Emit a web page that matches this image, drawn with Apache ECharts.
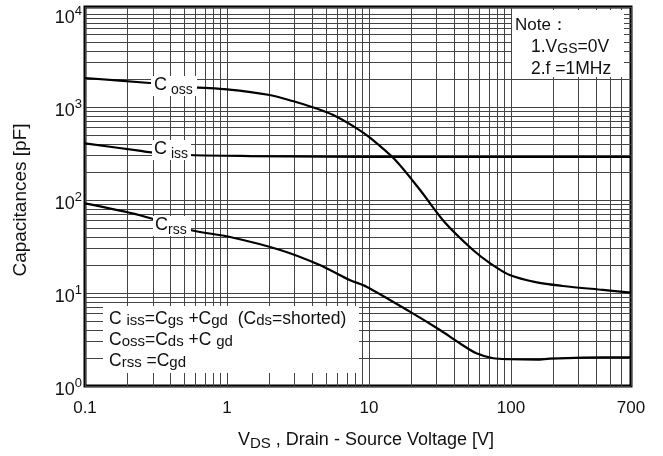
<!DOCTYPE html>
<html>
<head>
<meta charset="utf-8">
<script src="https://cdn.jsdelivr.net/npm/echarts@6/dist/echarts.min.js"></script>
<style>html,body{margin:0;padding:0;background:#fff}#c{width:663px;height:456px}</style>
</head>
<body>
<div id="c"></div>
<script>
// ---- data ----
const cossV = [0.1, 0.27, 0.6, 1.0, 2.0, 2.9, 4.0, 5.6, 8.2, 10.2, 15.2, 22.9, 34, 54, 71, 98, 152, 232, 444, 700];
const cossC = [2050, 1825, 1630, 1550, 1346, 1160, 995, 820, 590, 465, 272, 128, 58, 29, 21, 15.6, 13.0, 11.9, 10.8, 10.1];
const cissV = [0.1, 0.24, 0.3, 0.55, 1.45, 5, 20, 100, 700];
const cissC = [407, 339, 323, 305, 297, 292, 290, 290, 290];
const crssV = [0.1, 0.24, 0.55, 1.05, 2.37, 4.5, 7.3, 9.6, 19.4, 31.6, 43.6, 57, 75, 98, 152, 188, 320, 700];
const crssC = [92, 69, 47.6, 40, 29, 20, 13.8, 11.7, 6.3, 4.0, 2.88, 2.25, 1.99, 1.94, 1.92, 1.97, 2.02, 2.03];

// axis ranges and grid tick values
const xMin = 0.1, xMax = 700;
const yMin = 1, yMax = 11900;
const xMinorGrid = [0.2,0.3,0.4,0.5,0.6,0.7,0.8,0.9, 2,3,4,5,6,7,8,9, 20,30,40,50,60,70,80,90, 200,300,400,500,600];
const yMinorGrid = [2,3,4,5,6,7,8,9, 20,30,40,50,60,70,80,90, 200,300,400,500,600,700,800,900, 2000,3000,4000,5000,6000,7000,8000,9000];

const FONT = 'Liberation Sans, Arial, sans-serif';
const zip = (a, b) => a.map((v, i) => [v, b[i]]);

const chart = echarts.init(document.getElementById('c'), null, {renderer: 'canvas'});
const gridColor = '#444';
const curveStyle = {color: '#000', width: 2.2};

const option = {
  animation: false,
  backgroundColor: '#fff',
  grid: {left: 85, right: 32, top: 7, bottom: 70, show: true, borderColor: '#000', borderWidth: 3, backgroundColor: 'transparent'},
  xAxis: {
    type: 'log', min: xMin, max: xMax, logBase: 10,
    axisLine: {show: false}, axisTick: {show: false},
    splitLine: {show: true, lineStyle: {color: gridColor, width: 1}},
    axisLabel: {
      margin: 14, fontSize: 17, color: '#111', fontFamily: FONT,
      formatter: v => String(+(+v).toPrecision(3))
    }
  },
  yAxis: {
    type: 'log', min: yMin, max: yMax, logBase: 10,
    axisLine: {show: false}, axisTick: {show: false},
    splitLine: {show: true, lineStyle: {color: gridColor, width: 1}},
    axisLabel: {
      margin: 3, color: '#111', fontFamily: FONT,
      formatter: v => {
        const l = Math.log10(v), e = Math.round(l);
        if (Math.abs(l - e) > 1e-6) return '';
        return '{b|10}{p|' + e + '}';
      },
      rich: {
        b: {fontSize: 18, color: '#111', fontFamily: FONT, padding: [8, 0, 0, 0]},
        p: {fontSize: 13, color: '#111', fontFamily: FONT, padding: [0, 0, 6, 0]}
      }
    }
  },
  series: [
    {
      type: 'line', data: [], silent: true, z: 1,
      markLine: {
        silent: true, z: 1, symbol: ['none', 'none'], label: {show: false},
        lineStyle: {color: gridColor, width: 1, type: 'solid'},
        emphasis: {disabled: true},
        data: xMinorGrid.map(v => ({xAxis: v})).concat(yMinorGrid.map(v => ({yAxis: v})))
      }
    },
    {name: 'Coss', type: 'line', data: zip(cossV, cossC), showSymbol: false, smooth: 0.3, lineStyle: curveStyle, z: 5},
    {name: 'Ciss', type: 'line', data: zip(cissV, cissC), showSymbol: false, smooth: 0.3, lineStyle: curveStyle, z: 5},
    {name: 'Crss', type: 'line', data: zip(crssV, crssC), showSymbol: false, smooth: 0.3, lineStyle: curveStyle, z: 5}
  ],
  graphic: [
    // curve labels
    {type: 'rect', z: 100, shape: {x: 151, y: 76, width: 46, height: 20}, style: {fill: '#fff'}},
    {type: 'text', z: 101, x: 154, y: 85, style: {text: '{c|C}{s| oss}', verticalAlign: 'middle', rich: {
      c: {fontSize: 18, fill: '#111', fontFamily: FONT}, s: {fontSize: 14, fill: '#111', fontFamily: FONT, padding: [10, 0, 0, 0]}}}},
    {type: 'rect', z: 100, shape: {x: 152, y: 140, width: 39, height: 20}, style: {fill: '#fff'}},
    {type: 'text', z: 101, x: 154, y: 149, style: {text: '{c|C}{s| iss}', verticalAlign: 'middle', rich: {
      c: {fontSize: 18, fill: '#111', fontFamily: FONT}, s: {fontSize: 14, fill: '#111', fontFamily: FONT, padding: [10, 0, 0, 0]}}}},
    {type: 'rect', z: 100, shape: {x: 153, y: 216, width: 38, height: 20}, style: {fill: '#fff'}},
    {type: 'text', z: 101, x: 155, y: 225, style: {text: '{c|C}{s|rss}', verticalAlign: 'middle', rich: {
      c: {fontSize: 18, fill: '#111', fontFamily: FONT}, s: {fontSize: 14, fill: '#111', fontFamily: FONT, padding: [10, 0, 0, 0]}}}},
    // note box
    {type: 'rect', z: 100, shape: {x: 512, y: 10, width: 112, height: 67}, style: {fill: '#fff'}},
    {type: 'text', z: 101, x: 515, y: 25, style: {text: 'Note：', verticalAlign: 'middle', fontSize: 17, fontFamily: FONT, fill: '#111'}},
    {type: 'text', z: 101, x: 531, y: 47, style: {text: '{n|1.V}{s|GS}{n|=0V}', verticalAlign: 'middle', rich: {
      n: {fontSize: 17.5, fill: '#111', fontFamily: FONT}, s: {fontSize: 14, fill: '#111', fontFamily: FONT, padding: [5, 0, 0, 0]}}}},
    {type: 'text', z: 101, x: 531, y: 69, style: {text: '2.f =1MHz', verticalAlign: 'middle', fontSize: 17.5, fontFamily: FONT, fill: '#111'}},
    // definitions box
    {type: 'rect', z: 100, shape: {x: 103, y: 306, width: 256, height: 67}, style: {fill: '#fff'}},
    {type: 'text', z: 101, x: 109, y: 319, style: {text: '{n|C }{s|iss}{n|=C}{s|gs}{n| +C}{s|gd}{n|  (C}{s|ds}{n|=shorted)}', verticalAlign: 'middle', rich: {
      n: {fontSize: 17.5, fill: '#111', fontFamily: FONT}, s: {fontSize: 15, fill: '#111', fontFamily: FONT, padding: [4, 0, 0, 0]}}}},
    {type: 'text', z: 101, x: 109, y: 340, style: {text: '{n|C}{s|oss}{n|=C}{s|ds}{n| +C }{s|gd}', verticalAlign: 'middle', rich: {
      n: {fontSize: 17.5, fill: '#111', fontFamily: FONT}, s: {fontSize: 15, fill: '#111', fontFamily: FONT, padding: [4, 0, 0, 0]}}}},
    {type: 'text', z: 101, x: 109, y: 361, style: {text: '{n|C}{s|rss}{n| =C}{s|gd}', verticalAlign: 'middle', rich: {
      n: {fontSize: 17.5, fill: '#111', fontFamily: FONT}, s: {fontSize: 15, fill: '#111', fontFamily: FONT, padding: [4, 0, 0, 0]}}}},
    // axis titles
    {type: 'text', z: 101, x: 366, y: 440, style: {text: '{n|V}{s|DS}{n| , Drain - Source Voltage [V]}', align: 'center', verticalAlign: 'middle', rich: {
      n: {fontSize: 18, fill: '#111', fontFamily: FONT}, s: {fontSize: 15, fill: '#111', fontFamily: FONT, padding: [7, 0, 0, 0]}}}},
    {type: 'text', z: 101, x: 21, y: 200, rotation: Math.PI / 2, style: {text: 'Capacitances [pF]', align: 'center', verticalAlign: 'middle', fontSize: 19, fontFamily: FONT, fill: '#111'}}
  ]
};
chart.setOption(option);
</script>
</body>
</html>
